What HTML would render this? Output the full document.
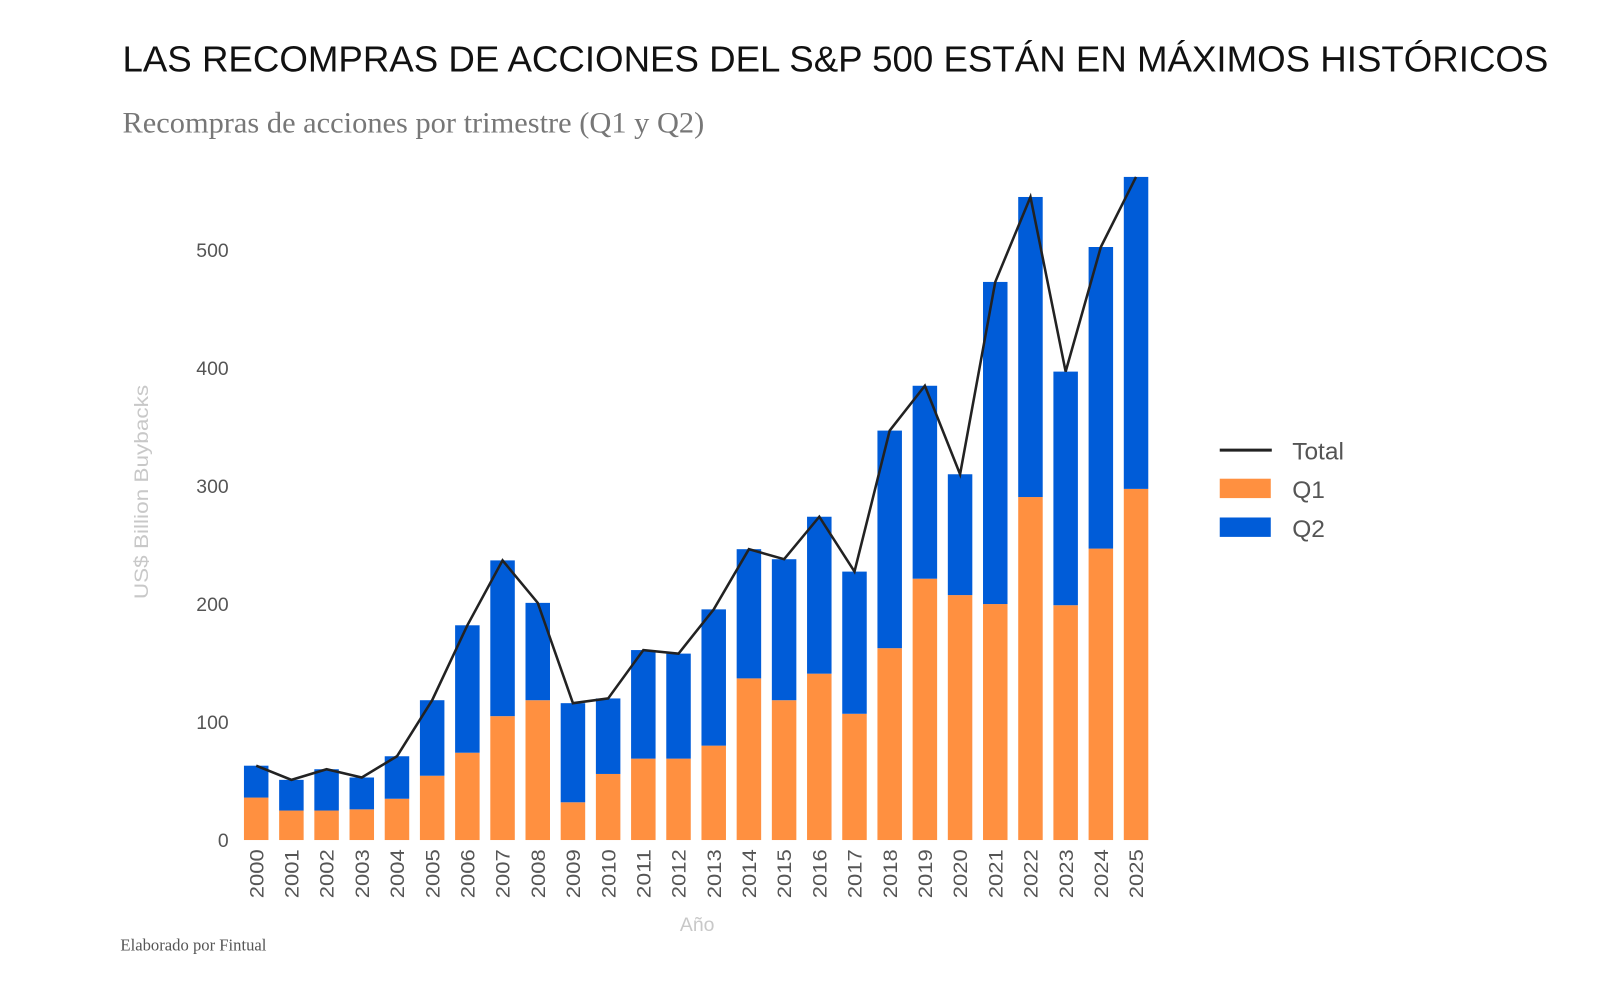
<!DOCTYPE html>
<html><head><meta charset="utf-8"><style>
body{margin:0;background:#fff;width:1600px;height:986px;overflow:hidden}
svg text{font-family:"Liberation Sans",sans-serif}
</style></head><body>
<svg width="1600" height="986">
<g transform="scale(1.0207)">
<text x="120" y="70" font-size="35" fill="#111" textLength="1397" lengthAdjust="spacingAndGlyphs">LAS RECOMPRAS DE ACCIONES DEL S&amp;P 500 ESTÁN EN MÁXIMOS HISTÓRICOS</text>
<text x="120" y="130" font-size="29" fill="#777" textLength="570" lengthAdjust="spacingAndGlyphs" style="font-family:'Liberation Serif',serif">Recompras de acciones por trimestre (Q1 y Q2)</text>
<text x="118" y="931" font-size="16" fill="#555" textLength="143" lengthAdjust="spacingAndGlyphs" style="font-family:'Liberation Serif',serif">Elaborado por Fintual</text>
<text transform="translate(145,482) rotate(-90)" text-anchor="middle" font-size="19" fill="#c8c8c8" textLength="210" lengthAdjust="spacingAndGlyphs">US$ Billion Buybacks</text>
<text x="683" y="912" text-anchor="middle" font-size="19" fill="#c8c8c8">Año</text>
<g id="yt"></g><g id="bars"></g><g id="xt"></g>
<polyline id="line" fill="none" stroke="#222" stroke-width="2.5"/>
<g>
<line x1="1195" y1="441" x2="1246" y2="441" stroke="#222" stroke-width="3"/>
<text x="1266" y="450" font-size="24" fill="#555">Total</text>
<rect x="1195" y="469" width="50" height="19" fill="#ff9040"/>
<text x="1266" y="488" font-size="24" fill="#555">Q1</text>
<rect x="1195" y="507" width="50" height="19" fill="#005cd8"/>
<text x="1266" y="526" font-size="24" fill="#555">Q2</text>
</g>
</g>
</svg>
<script>
const years=[2000,2001,2002,2003,2004,2005,2006,2007,2008,2009,2010,2011,2012,2013,2014,2015,2016,2017,2018,2019,2020,2021,2022,2023,2024,2025];
const q1=[36,25,25,26,35,54.5,74,105,118.5,32,56,69,69,80,137,118.5,141,107,162.6,221.5,207.6,200,290.7,199,247,297.6];
const totals=[63,51,60,53,71,118.5,182,237,201,116,120,161,158,195.5,246.5,238,274,227.5,347,385,310,473,545,397,502.6,562];
const yTicks=[0,100,200,300,400,500];
const NS="http://www.w3.org/2000/svg";
const y=v=>823-v*1.156;
const x=i=>251+i*34.48;
const bw=24;
function mk(t,a,p){const e=document.createElementNS(NS,t);for(const k in a)e.setAttribute(k,a[k]);p.appendChild(e);return e;}
const yt=document.getElementById('yt'),bars=document.getElementById('bars'),xt=document.getElementById('xt');
yTicks.forEach(v=>{const t=mk('text',{x:224,y:y(v)+7,'text-anchor':'end','font-size':19,fill:'#555'},yt);t.textContent=v;

});
const pts=[];
years.forEach((yr,i)=>{
 const r1=mk('rect',{x:x(i)-bw/2,y:y(q1[i]),width:bw,height:y(0)-y(q1[i]),fill:'#ff9040'},bars);
 
 
 const r2=mk('rect',{x:x(i)-bw/2,y:y(totals[i]),width:bw,height:y(q1[i])-y(totals[i]),fill:'#005cd8'},bars);
 
 
 const t=mk('text',{transform:`translate(${x(i)+7},${832}) rotate(-90)`,'text-anchor':'end','font-size':19,fill:'#555',textLength:48,lengthAdjust:'spacingAndGlyphs'},xt);
 t.textContent=yr;
 
 
 pts.push(x(i)+','+y(totals[i]));
});
document.getElementById('line').setAttribute('points',pts.join(' '));
</script>
</body></html>
